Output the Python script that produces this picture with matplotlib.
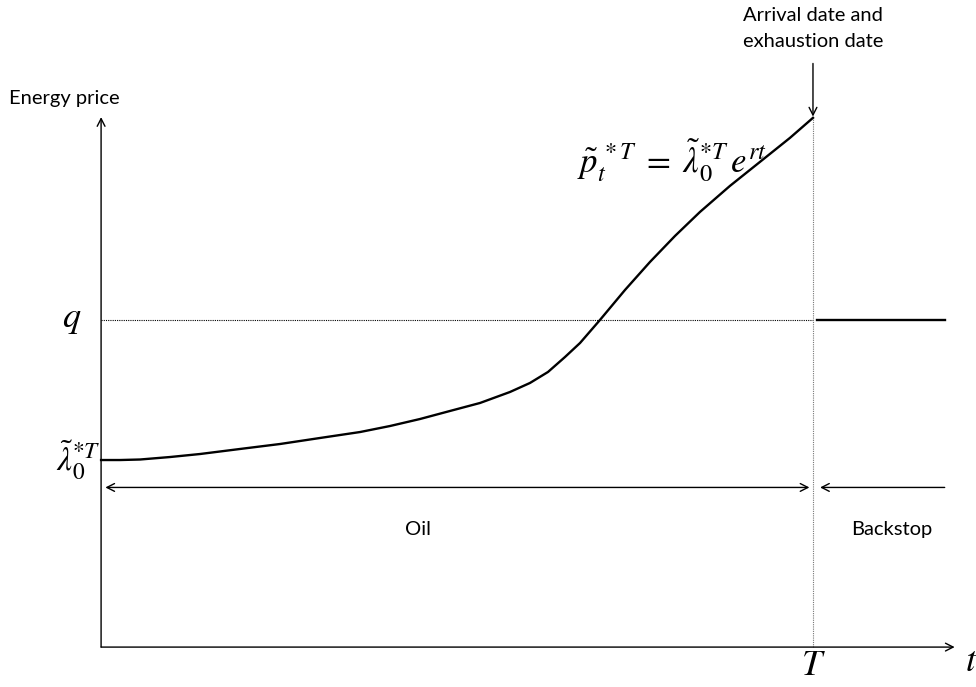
import matplotlib
matplotlib.use("Agg")
import matplotlib.pyplot as plt
import numpy as np

plt.rcParams["mathtext.fontset"] = "stix"
plt.rcParams["font.family"] = ["Lato", "DejaVu Sans"]

# oil price path along time (T = 10), price units with q = 5
t_oil = [0.0, 0.267, 0.548, 0.969, 1.390, 1.952, 2.514, 3.076, 3.638, 4.059,
         4.480, 4.902, 5.323, 5.744, 6.025, 6.278, 6.517, 6.728, 7.008, 7.360,
         7.711, 8.062, 8.413, 8.834, 9.256, 9.677, 10.0]
p_oil = [2.859, 2.859, 2.867, 2.905, 2.951, 3.028, 3.104, 3.196, 3.287, 3.379,
         3.486, 3.609, 3.731, 3.899, 4.037, 4.205, 4.434, 4.648, 5.000, 5.459,
         5.887, 6.284, 6.651, 7.049, 7.416, 7.783, 8.089]
T_end = 10.0
q_backstop = 5.0
t_backstop = [10.05, 11.85]
lam0 = p_oil[0]

fig = plt.figure(figsize=(9.76, 6.87), dpi=100)
ax = fig.add_axes([0, 0, 1, 1])
ax.set_xlim(-1.42, 12.29)
ax.set_ylim(-0.61, 9.89)
ax.axis("off")

arrow = dict(arrowstyle="->,head_length=0.55,head_width=0.28", lw=1.0,
             color="black", shrinkA=0, shrinkB=0)

# axes
ax.annotate("", xy=(0, 8.1), xytext=(0, 0), arrowprops=arrow)
ax.annotate("", xy=(11.99, 0), xytext=(0, 0), arrowprops=arrow)
ax.text(-1.3, 8.39, "Energy price", fontsize=14.5, ha="left", va="center")
ax.text(T_end, -0.27, r"$T$", fontsize=26, ha="center", va="center")
ax.text(12.22, -0.2, r"$t$", fontsize=26, ha="center", va="center")

# reference lines
ax.plot([0, T_end], [q_backstop, q_backstop], ls=(0, (1, 1)), lw=0.8, color="black")
ax.plot([T_end, T_end], [0, p_oil[-1]], ls=(0, (1, 1)), lw=0.8, color="#777777")
ax.text(-0.41, q_backstop, r"$q$", fontsize=26, ha="center", va="center")
ax.text(-0.32, lam0, r"$\tilde{\lambda}_0^{*T}$", fontsize=24, ha="center", va="center")

# price paths
ax.plot(t_oil, p_oil, color="black", lw=1.7)
ax.plot(t_backstop, [q_backstop, q_backstop], color="black", lw=1.7)
ax.text(8.02, 7.43, r"$\tilde{p}_t^{\,*T}\;=\;\tilde{\lambda}_0^{*T}\,e^{rt}$",
        fontsize=25, ha="center", va="center")

# regimes
y_reg = 2.44
ax.annotate("", xy=(0.06, y_reg), xytext=(T_end - 0.05, y_reg),
            arrowprops=dict(arrowstyle="<->,head_length=0.55,head_width=0.28",
                            lw=1.0, color="black", shrinkA=0, shrinkB=0))
ax.annotate("", xy=(T_end + 0.1, y_reg), xytext=(11.85, y_reg), arrowprops=arrow)
ax.text(4.45, 1.8, "Oil", fontsize=14.5, ha="center", va="center")
ax.text(11.1, 1.8, "Backstop", fontsize=14.5, ha="center", va="center")

# arrival / exhaustion marker
ax.annotate("", xy=(T_end, p_oil[-1] + 0.02), xytext=(T_end, 8.92), arrowprops=arrow)
ax.text(T_end, 9.45, "Arrival date and\nexhaustion date", fontsize=14.5,
        ha="center", va="center", linespacing=1.65)

fig.savefig("out.png", dpi=100)
